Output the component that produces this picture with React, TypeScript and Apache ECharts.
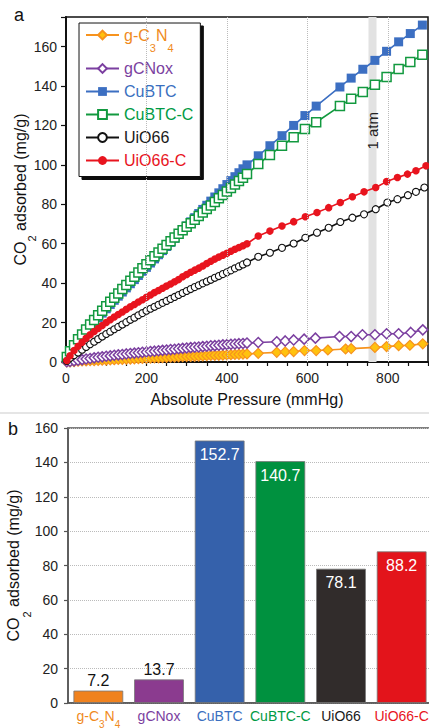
import React, { useEffect, useRef } from "react";
import * as echarts from "echarts";

// Pressure grid (mmHg) shared by the densely sampled low-pressure part of every isotherm
const lowPressure = [
  2, 10, 20, 30, 40, 50, 60, 70, 80, 90, 100, 110, 120, 130, 140, 150, 160, 170, 180, 190,
  200, 210, 220, 230, 240, 250, 260, 270, 280, 290, 300, 310, 320, 330, 340, 350, 360, 370,
  380, 390, 400, 410, 420, 430, 440, 450,
];

// CO2 uptake (mg/g) on the low-pressure grid
const gcnLow = [
  0.05, 0.1, 0.2, 0.4, 0.5, 0.6, 0.7, 0.7, 0.8, 0.9, 1.0, 1.1, 1.2, 1.3, 1.3, 1.4, 1.5, 1.6,
  1.7, 1.8, 1.9, 2.0, 2.1, 2.1, 2.2, 2.3, 2.4, 2.5, 2.6, 2.7, 2.8, 2.8, 2.9, 3.0, 3.1, 3.2,
  3.3, 3.4, 3.4, 3.5, 3.6, 3.7, 3.8, 3.9, 4.0, 4.1,
];
const gcnoxLow = [
  0.1, 0.3, 0.6, 0.9, 1.2, 1.5, 1.8, 2.1, 2.4, 2.6, 2.9, 3.1, 3.4, 3.6, 3.8, 4.1, 4.3, 4.5,
  4.7, 4.9, 5.1, 5.3, 5.5, 5.7, 5.9, 6.1, 6.3, 6.5, 6.7, 6.9, 7.1, 7.3, 7.5, 7.6, 7.8, 8.0,
  8.2, 8.3, 8.5, 8.7, 8.8, 9.0, 9.1, 9.3, 9.4, 9.6,
];
const cubtcLow = [
  2, 4.5, 7.5, 10.3, 13, 15.5, 17.8, 20.2, 22.5, 24.8, 27, 29.2, 31.3, 33.4, 35.5, 37.6, 39.7,
  41.8, 43.9, 46, 48, 50.2, 52.3, 54.4, 56.5, 58.6, 60.7, 62.8, 64.9, 67, 69, 71.1, 73.2, 75.3,
  77.4, 79.5, 81.6, 83.7, 85.8, 87.9, 90, 92, 94, 96, 98, 100,
];
const cubtcCLow = [
  2.5, 5.5, 8.5, 11.5, 14, 16.5, 19, 21.3, 23.7, 26, 28.3, 30.5, 32.6, 34.8, 37, 39, 41.2,
  43.3, 45.4, 47.5, 49.6, 51.6, 53.6, 55.5, 57.5, 59.4, 61.3, 63.2, 65, 66.8, 68.6, 70.4, 72.2,
  74, 75.8, 77.6, 79.4, 81.2, 83, 84.7, 86.5, 88.3, 90, 91.8, 93.5, 95.3,
];
const uio66Low = [
  0.5, 2, 3.4, 4.8, 6.2, 7.6, 9, 10.3, 11.6, 12.9, 14.2, 15.4, 16.6, 17.8, 19, 20.2, 21.4,
  22.5, 23.7, 24.8, 26, 27, 28, 29, 30, 31, 32, 33, 34, 35, 36, 37, 38, 38.9, 39.9, 40.8, 41.7,
  42.7, 43.6, 44.6, 45.5, 46.5, 47.5, 48.5, 49.5, 50.5,
];
const uio66CLow = [
  0.8, 3.2, 5.8, 8, 10, 12, 13.8, 15.5, 17, 18.5, 20, 21.4, 22.8, 24.1, 25.4, 26.7, 28, 29.2,
  30.4, 31.6, 32.8, 34, 35.2, 36.3, 37.4, 38.5, 39.6, 40.7, 41.8, 43.2, 44.4, 45.5, 46.6, 47.6,
  48.7, 50, 51.1, 52.2, 53.2, 54.2, 55.2, 56.2, 57.2, 58.1, 59, 60,
];

// Sparser high-pressure points (pressure, uptake)
const gcnHighP = [478, 524, 545, 566, 593, 622, 651, 695, 709, 768, 797, 827, 855, 887];
const gcnHighV = [4.4, 4.9, 5.1, 5.3, 5.8, 5.8, 6.1, 6.6, 6.8, 7.4, 7.8, 8.3, 8.5, 9.2];
const gcnoxHighP = [478, 524, 545, 566, 592, 620, 680, 709, 737, 768, 797, 827, 857, 887];
const gcnoxHighV = [9.9, 10.3, 10.7, 11.2, 11.6, 12.1, 12.9, 12.9, 13.8, 13.8, 14.3, 14.3, 15, 16.3];
const cubtcHighP = [478, 507, 537, 566, 594, 622, 681, 709, 738, 768, 797, 827, 856, 886];
const cubtcHighV = [104.6, 109.7, 114.8, 120, 125, 129.8, 139.5, 144, 148.5, 153, 157.6, 162.4, 166.6, 170.9];
const cubtcCHighP = [478, 507, 537, 566, 594, 622, 681, 709, 738, 768, 797, 827, 856, 886];
const cubtcCHighV = [100.4, 105, 109.7, 114, 118.2, 121.6, 129.8, 133.5, 137, 140.6, 144.6, 148.6, 152.2, 155.8];
const uio66HighP = [478, 507, 537, 566, 595, 624, 653, 682, 712, 741, 770, 799, 824, 850, 870, 891];
const uio66HighV = [53.4, 55.4, 57.9, 60.1, 63, 65.6, 68.1, 71, 73.2, 74.9, 77.5, 80.9, 82.6, 84.6, 86.3, 88.5];
const uio66CHighP = [478, 507, 537, 566, 595, 624, 653, 682, 712, 741, 770, 797, 824, 849, 870, 895];
const uio66CHighV = [63.9, 66.4, 69, 71.2, 73.7, 75.8, 78.3, 80.9, 83.8, 86.3, 88.5, 91.5, 93.6, 95.3, 97, 99.5];

// Reference pressures
const gridPressures = [200, 400, 600, 800];
const atmBand = [752, 772];

// Uptake at 1 atm
const materials = ["g-C3N4", "gCNox", "CuBTC", "CuBTC-C", "UiO66", "UiO66-C"];
const uptakeAt1atm = [7.2, 13.7, 152.7, 140.7, 78.1, 88.2];

const barColors = ["#F0821E", "#8B3B8F", "#3561AB", "#00913F", "#312C2B", "#E3141B"];
const nameColors = ["#F08A1C", "#7B3FA0", "#3A6FC0", "#009A44", "#1A1A1A", "#E8141E"];

const FONT = "'Liberation Sans', Arial, sans-serif";

function pairs(p: number[], v: number[]): number[][] {
  return p.map((x, i) => [x, v[i]]);
}

function isotherm(
  name: string,
  lowV: number[],
  hiP: number[],
  hiV: number[],
  style: { symbol: string; size: number; fill: string; stroke: string; border: number }
) {
  return {
    name,
    type: "line",
    xAxisIndex: 0,
    yAxisIndex: 0,
    showAllSymbol: true,
    symbol: style.symbol,
    symbolSize: style.size,
    data: pairs(lowPressure, lowV).concat(pairs(hiP, hiV)),
    lineStyle: { color: style.stroke, width: 1.6 },
    itemStyle: { color: style.fill, borderColor: style.stroke, borderWidth: style.border },
    emphasis: { disabled: true },
    z: 3,
  };
}

export default function App() {
  const ref = useRef<HTMLDivElement>(null);

  useEffect(() => {
    document.body.style.margin = "0";
    if (!ref.current) return;
    const chart = echarts.init(ref.current, undefined, { renderer: "svg" });

    const subName = (gap: number) => ({
      m: { fontSize: 16, color: "#111", fontFamily: FONT },
      s: { fontSize: 11, color: "#111", fontFamily: FONT, padding: [gap, 0, 0, 0] },
    });

    const catRich: Record<string, any> = {};
    nameColors.forEach((c, i) => {
      catRich["c" + i] = { fontSize: 14, color: c, fontFamily: FONT, verticalAlign: "top" };
    });
    catRich.s0 = { fontSize: 10, color: nameColors[0], fontFamily: FONT, verticalAlign: "top", padding: [10, 0, 0, 0] };

    const option: any = {
      animation: false,
      textStyle: { fontFamily: FONT },
      graphic: [
        { type: "text", left: 14, top: 6, style: { text: "a", fontSize: 18, fill: "#111", fontFamily: FONT } },
        { type: "text", left: 8, top: 420, style: { text: "b", fontSize: 18, fill: "#111", fontFamily: FONT } },
        { type: "line", shape: { x1: 0, y1: 413, x2: 429, y2: 413 }, style: { stroke: "#dddddd", lineWidth: 1.5 } },
      ],
      legend: {
        left: 79,
        top: 23,
        orient: "vertical",
        padding: [4, 7, 8, 6],
        itemGap: 7,
        itemWidth: 33,
        itemHeight: 11,
        backgroundColor: "#fff",
        borderColor: "#111",
        borderWidth: 1,
        borderRadius: 0,
        shadowColor: "#111",
        shadowBlur: 0,
        shadowOffsetX: 3,
        shadowOffsetY: 3,
        selectedMode: false,
        textStyle: {
          fontSize: 16,
          fontFamily: FONT,
          rich: {
            lo: { fontSize: 16, color: nameColors[0], fontFamily: FONT },
            ls: { fontSize: 11, color: nameColors[0], fontFamily: FONT, padding: [26, 0, 0, 0] },
          },
        },
        formatter: (n: string) => (n === "g-C3N4" ? "{lo|g-C}{ls|3}{lo|N}{ls|4}" : n),
        data: materials.map((n, i) => ({ name: n, textStyle: { color: nameColors[i] } })),
      },
      grid: [
        { left: 66, top: 17, right: 1, height: 345, show: true, borderColor: "#111", borderWidth: 1.5, outerBoundsMode: "none", containLabel: false },
        { left: 68, top: 428, right: -3, height: 275, show: true, borderColor: "#555", borderWidth: 1.5, outerBoundsMode: "none", containLabel: false },
      ],
      xAxis: [
        {
          gridIndex: 0,
          type: "value",
          min: 0,
          max: 900,
          interval: 50,
          axisLine: { show: true, lineStyle: { color: "#111", width: 2 } },
          axisTick: { show: true, length: 4, lineStyle: { color: "#111", width: 1.2 } },
          axisLabel: {
            fontSize: 14,
            color: "#222",
            margin: 9,
            formatter: (v: number) => (v % 200 === 0 ? String(v) : ""),
          },
          splitLine: { show: false },
          name: "Absolute Pressure (mmHg)",
          nameLocation: "middle",
          nameGap: 29,
          nameMoveOverlap: false,
          nameTextStyle: { fontSize: 16, color: "#111" },
        },
        {
          gridIndex: 1,
          type: "category",
          data: materials,
          axisLine: { show: true, lineStyle: { color: "#555", width: 1.5 } },
          axisTick: { show: false },
          axisLabel: {
            interval: 0,
            margin: 6,
            rich: catRich,
            formatter: (v: string, i: number) =>
              v === "g-C3N4" ? "{c0|g-C}{s0|3}{c0|N}{s0|4}" : `{c${i}|${v}}`,
          },
        },
      ],
      yAxis: [
        {
          gridIndex: 0,
          type: "value",
          min: 0,
          max: 175,
          interval: 20,
          axisLine: { show: true, lineStyle: { color: "#111", width: 2 } },
          axisTick: { show: true, length: 5, lineStyle: { color: "#111", width: 1.2 } },
          axisLabel: {
            fontSize: 14,
            color: "#222",
            margin: 9,
            formatter: (v: number) => (v % 20 === 0 ? String(v) : ""),
          },
          splitLine: { show: false },
          name: "{m|CO}{s|2}{m| adsorbed (mg/g)}",
          nameLocation: "middle",
          nameGap: 29,
          nameMoveOverlap: false,
          nameTextStyle: { rich: subName(22) },
        },
        {
          gridIndex: 1,
          type: "value",
          min: 0,
          max: 160,
          interval: 20,
          axisLine: { show: true, lineStyle: { color: "#555", width: 1.5 } },
          axisTick: { show: true, length: 4, lineStyle: { color: "#555", width: 1.2 } },
          axisLabel: { fontSize: 14, color: "#222", margin: 10 },
          splitLine: { show: true, lineStyle: { color: "#bbb", type: "dotted", width: 1 } },
          name: "{m|CO}{s|2}{m| adsorbed (mg/g)}",
          nameLocation: "middle",
          nameGap: 36,
          nameMoveOverlap: false,
          nameTextStyle: { rich: subName(26) },
        },
      ],
      series: [
        {
          name: "refs",
          type: "line",
          xAxisIndex: 0,
          yAxisIndex: 0,
          data: [],
          silent: true,
          z: 1,
          markArea: {
            silent: true,
            itemStyle: { color: "#e2e2e2" },
            label: {
              show: true,
              formatter: "1 atm",
              position: ["50%", "33%"],
              rotate: 90,
              align: "center",
              verticalAlign: "middle",
              fontSize: 15,
              color: "#222",
              fontFamily: FONT,
            },
            data: [[{ xAxis: atmBand[0] }, { xAxis: atmBand[1] }]],
          },
          markLine: {
            silent: true,
            symbol: "none",
            label: { show: false },
            lineStyle: { color: "#bbb", type: "dotted", width: 1 },
            data: gridPressures.map((p) => ({ xAxis: p })),
          },
        },
        isotherm("g-C3N4", gcnLow, gcnHighP, gcnHighV, { symbol: "diamond", size: 10, fill: "#FFC20E", stroke: "#F7931E", border: 1.2 }),
        isotherm("gCNox", gcnoxLow, gcnoxHighP, gcnoxHighV, { symbol: "diamond", size: 10, fill: "#fff", stroke: "#7B3FA0", border: 1.5 }),
        isotherm("CuBTC", cubtcLow, cubtcHighP, cubtcHighV, { symbol: "rect", size: 9, fill: "#3C6FC2", stroke: "#3C6FC2", border: 0 }),
        isotherm("CuBTC-C", cubtcCLow, cubtcCHighP, cubtcCHighV, { symbol: "rect", size: 9, fill: "#fff", stroke: "#12993F", border: 1.5 }),
        isotherm("UiO66", uio66Low, uio66HighP, uio66HighV, { symbol: "circle", size: 7, fill: "#fff", stroke: "#111", border: 1.1 }),
        isotherm("UiO66-C", uio66CLow, uio66CHighP, uio66CHighV, { symbol: "circle", size: 7.5, fill: "#E8141E", stroke: "#E8141E", border: 0 }),
        {
          name: "uptake",
          type: "bar",
          xAxisIndex: 1,
          yAxisIndex: 1,
          barCategoryGap: "18%",
          label: { show: true, fontSize: 16, fontFamily: FONT },
          emphasis: { disabled: true },
          data: uptakeAt1atm.map((v, i) => ({
            value: v,
            itemStyle: { color: barColors[i], borderColor: "#777", borderWidth: 0.8 },
            label:
              v < 20
                ? { position: "top", color: "#111", distance: 2 }
                : { position: "insideTop", color: "#fff", distance: 6 },
          })),
        },
      ],
    };

    chart.setOption(option);
    return () => chart.dispose();
  }, []);

  return <div ref={ref} style={{ width: 429, height: 728 }} />;
}
